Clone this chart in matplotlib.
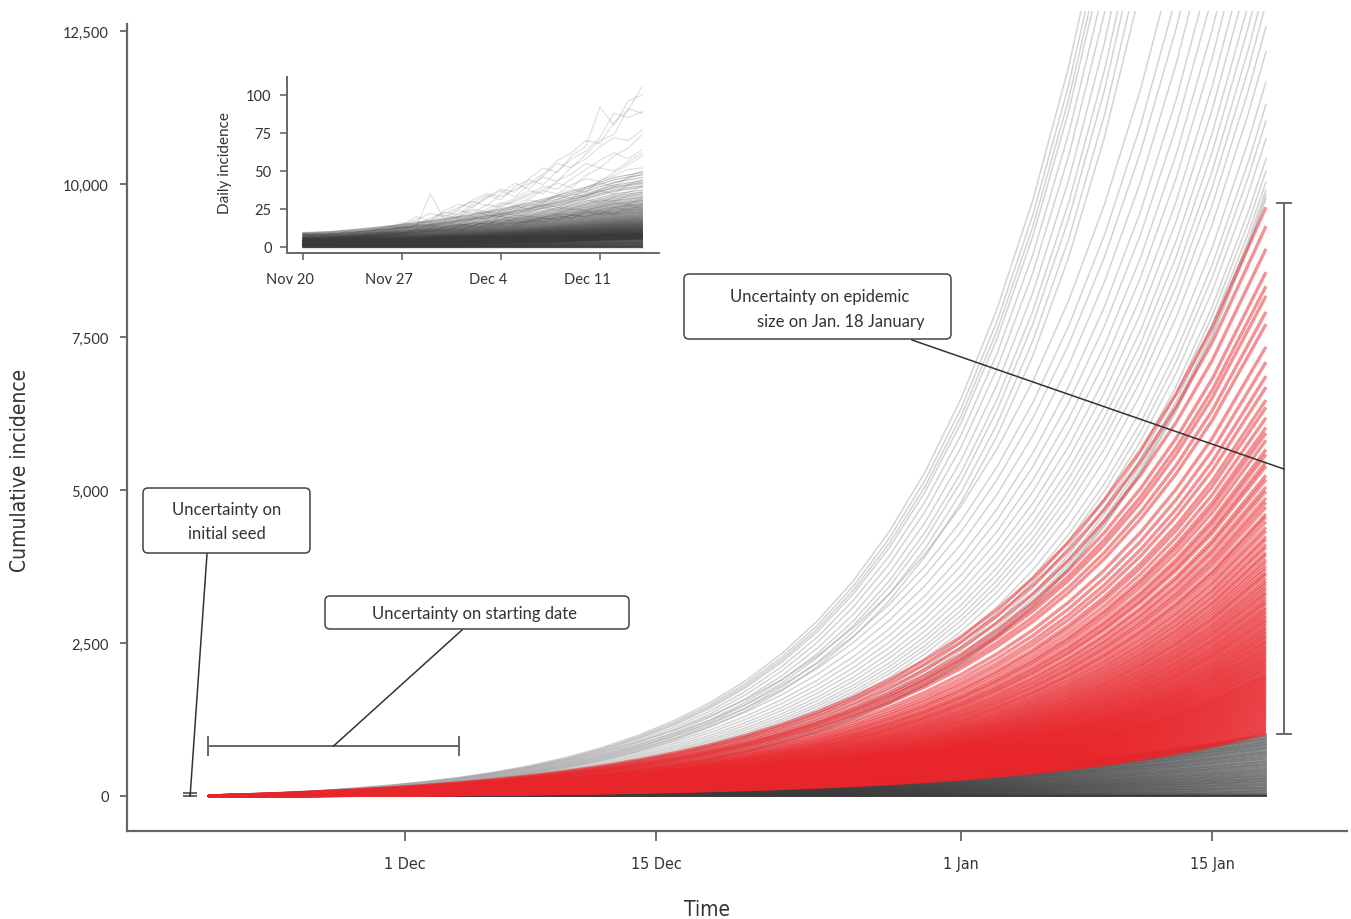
import numpy as np
import pandas as pd
import matplotlib
matplotlib.use('Agg')
import matplotlib.pyplot as plt
import matplotlib.dates as mdates
from matplotlib.patches import FancyBboxPatch
from matplotlib.transforms import ScaledTranslation

plt.rcParams['font.family'] = ['Lato', 'DejaVu Sans']
NARROW = dict(family='DejaVu Sans', stretch='condensed')

# ---------------- data ----------------
start_date = pd.Timestamp('2019-11-20')

# days since 20 Nov at which the trajectories are sampled
knot_days = [0, 2, 4, 6, 8, 10, 12, 14, 16, 18, 20, 22, 24, 26, 28, 30,
             32, 34, 36, 38, 40, 42, 44, 46, 48, 50, 52, 54, 56, 58, 59]

# shape of the cumulative curves (fraction of the size reached on 18 Jan)
profile_fast = [0, .000609, .001352, .002259, .003367, .004721, .006373, .008393,
                .010860, .013872, .017551, .022045, .027533, .034238, .042426, .052428,
                .064644, .079564, .097788, .120046, .147233, .180439, .220996, .270534,
                .331039, .404940, .495202, .605450, .740106, .904575, 1.0]
profile_midfast = [0, .001102, .002415, .003978, .005839, .008058, .010701, .013849,
                   .017600, .022066, .027389, .033728, .041279, .050274, .060991, .073758,
                   .088965, .107083, .128664, .154368, .185003, .221477, .264936, .316704,
                   .378400, .451881, .539362, .643609, .767810, .915737, 1.0]
profile_mid = [0, .001964, .004241, .006893, .009959, .013532, .017692, .022520,
               .028117, .034635, .042195, .050980, .061192, .073065, .086850, .102861,
               .121484, .143143, .168244, .197393, .231298, .270670, .316519, .369655,
               .431394, .503254, .586652, .683512, .796059, .931885, 1.0]
profile_slow = [0, .005804, .012230, .019321, .027162, .035825, .045406, .055991,
                .067704, .080577, .094928, .110652, .128168, .147373, .168689, .192326,
                .218285, .247093, .278855, .313995, .352827, .395775, .443261, .495599,
                .553532, .617584, .688390, .766583, .853006, .948505, 1.0]

# epidemic size on 18 January for each simulated trajectory
grey_fast_final = [36000, 35100, 34400, 33800, 32700, 31600, 30400, 29300, 28500, 27500, 26600]
grey_midfast_final = [21400, 20300, 19500, 18600, 17700, 17000, 16300, 15700, 15100, 14600,
                      14100, 13700, 13300, 12950, 12570, 12160, 11670, 11300, 11030, 10740,
                      10410, 10210, 10030, 9900, 9820, 9760]
red_final = [
    9620, 9310, 8940, 8560, 8330, 8170, 7910, 7710, 7340, 7090,
    6860, 6680, 6470, 6350, 6180, 6020, 5930, 5810, 5660, 5580,
    5460, 5390, 5240, 5170, 5050, 4980, 4870, 4800, 4720, 4610,
    4560, 4480, 4390, 4330, 4240, 4190, 4110, 4060, 3980, 3940,
    3870, 3820, 3760, 3710, 3650, 3620, 3560, 3510, 3470, 3420,
    3380, 3330, 3300, 3250, 3210, 3170, 3140, 3090, 3060, 3020,
    2990, 2950, 2920, 2880, 2860, 2820, 2790, 2750, 2730, 2690,
    2670, 2630, 2610, 2580, 2550, 2520, 2500, 2470, 2440, 2420,
    2390, 2370, 2340, 2320, 2290, 2270, 2240, 2220, 2200, 2170,
    2150, 2130, 2100, 2080, 2060, 2040, 2010, 1990, 1970, 1950,
    1930, 1910, 1890, 1870, 1850, 1830, 1810, 1790, 1770, 1750,
    1730, 1710, 1690, 1670, 1650, 1630, 1610, 1590, 1570, 1550,
    1530, 1510, 1490, 1470, 1450, 1430, 1410, 1390, 1370, 1350,
    1330, 1310, 1290, 1270, 1250, 1230, 1210, 1190, 1170, 1150,
    1130, 1110, 1090, 1070, 1050, 1030, 1015,
]
dark_final = [
    1010, 985, 972, 950, 938, 921, 903, 884, 872, 851,
    838, 822, 801, 788, 769, 752, 731, 716, 698, 683,
    662, 647, 628, 612, 593, 571, 560, 538, 522, 507,
    488, 472, 451, 439, 418, 406, 388, 371, 357, 338,
    326, 309, 292, 281, 263, 248, 236, 219, 204, 188,
    176, 158, 143, 131, 117, 99, 86, 71, 57, 42,
    31, 22, 12, 6, 3, 0, 0, 0, 0,
]

# inset: clearly visible daily incidence trajectories, 20 Nov - 14 Dec
inset_days = [0, 1, 2, 3, 4, 5, 6, 7, 8, 9, 10, 11, 12, 13, 14, 15, 16, 17, 18, 19, 20, 21, 22, 23, 24]
inset_upper = [
    [8, 7, 9, 8, 10, 11, 13, 15, 18, 22, 20, 25, 31, 35, 33, 38, 42, 48, 57, 62, 70, 68, 82, 90, 106],
    [7, 8, 6, 8, 9, 12, 11, 14, 20, 17, 24, 28, 26, 33, 38, 36, 45, 52, 49, 60, 66, 92, 80, 96, 100],
    [9, 6, 8, 7, 8, 10, 14, 12, 15, 19, 23, 21, 29, 34, 31, 40, 44, 41, 50, 58, 63, 72, 88, 85, 89],
    [6, 7, 8, 6, 9, 8, 12, 16, 14, 18, 22, 26, 30, 27, 35, 42, 38, 47, 55, 52, 61, 70, 74, 91, 88],
    [7, 5, 7, 9, 8, 11, 10, 13, 17, 16, 21, 19, 27, 32, 37, 33, 41, 46, 43, 53, 58, 66, 72, 70, 77],
    [5, 6, 6, 7, 10, 9, 11, 14, 13, 35, 18, 22, 25, 23, 28, 32, 37, 35, 44, 48, 55, 52, 60, 65, 74],
    [6, 8, 7, 6, 8, 10, 9, 12, 15, 14, 19, 24, 22, 28, 26, 31, 35, 40, 38, 45, 51, 57, 62, 58, 64],
    [5, 6, 5, 8, 7, 9, 12, 11, 14, 13, 17, 20, 24, 21, 27, 30, 34, 38, 42, 39, 47, 52, 50, 56, 62],
    [7, 5, 6, 7, 6, 8, 10, 13, 12, 15, 14, 18, 21, 25, 29, 28, 32, 37, 35, 41, 45, 43, 49, 54, 60],
    [4, 6, 7, 5, 8, 7, 9, 11, 13, 12, 16, 15, 19, 23, 22, 26, 31, 29, 34, 38, 36, 44, 47, 51, 52],
    [6, 4, 5, 7, 6, 9, 8, 10, 12, 14, 13, 17, 20, 18, 24, 27, 25, 30, 34, 32, 39, 42, 40, 46, 50],
    [5, 6, 4, 6, 7, 8, 10, 9, 11, 13, 15, 14, 18, 21, 20, 24, 28, 27, 31, 35, 33, 38, 42, 45, 48],
    [4, 5, 6, 5, 6, 7, 9, 11, 10, 12, 14, 13, 16, 19, 22, 21, 25, 28, 26, 30, 34, 37, 35, 41, 44],
    [5, 4, 5, 6, 7, 6, 8, 9, 11, 10, 13, 15, 14, 17, 20, 19, 23, 26, 24, 28, 31, 29, 33, 36, 40],
    [4, 5, 4, 5, 6, 7, 7, 9, 10, 12, 11, 13, 16, 15, 18, 21, 20, 23, 26, 25, 28, 31, 30, 34, 36],
    [3, 4, 5, 4, 6, 6, 8, 8, 9, 11, 12, 11, 14, 16, 15, 18, 20, 19, 22, 25, 24, 27, 29, 28, 32],
    [9, 7, 8, 6, 7, 9, 8, 10, 9, 12, 11, 10, 14, 13, 21, 15, 17, 16, 20, 19, 23, 22, 26, 24, 28],
    [6, 8, 7, 9, 8, 7, 9, 8, 11, 10, 13, 12, 11, 15, 14, 13, 17, 19, 18, 21, 20, 24, 22, 27, 25],
    [8, 6, 9, 7, 8, 8, 10, 9, 12, 11, 10, 14, 13, 12, 16, 15, 18, 17, 21, 19, 23, 21, 25, 28, 26],
    [7, 9, 8, 8, 10, 9, 11, 10, 12, 14, 13, 15, 14, 17, 16, 19, 18, 20, 22, 21, 24, 23, 22, 25, 24],
    [8, 8, 7, 10, 9, 10, 9, 12, 11, 13, 12, 14, 16, 15, 18, 17, 16, 19, 18, 21, 20, 22, 21, 23, 22],
]

# uncertainty brackets: seed size, starting date window, size on 18 Jan
seed_range = (0, 50)
start_window = ('2019-11-20', '2019-12-04')
size_range = (1013, 9690)

# ---------------- figure ----------------
W, H = 1351, 920
fig = plt.figure(figsize=(W / 100, H / 100), dpi=100)
ax = fig.add_axes([127 / W, 88 / H, 1220 / W, 820 / H])

x0 = mdates.date2num(start_date.to_pydatetime())
kd = x0 + np.array(knot_days)

for f in grey_fast_final:
    ax.plot(kd, f * np.array(profile_fast), color='#a8a8a8', alpha=0.5, lw=1.1, zorder=1)
for f in grey_midfast_final:
    ax.plot(kd, f * np.array(profile_midfast), color='#a8a8a8', alpha=0.5, lw=1.1, zorder=1)
for f in dark_final:
    ax.plot(kd, f * np.array(profile_slow), color='#3c3c3c', alpha=0.45, lw=1.3, zorder=2)
for f in red_final:
    ax.plot(kd, f * np.array(profile_mid), color='#e8262b', alpha=0.5, lw=2.4, zorder=3,
            solid_capstyle='butt')

ylo, yhi = -572, 12827
ax.set_ylim(ylo, yhi)
ax.set_xlim(x0 - 4.52, x0 + 63.52)

yt = [0, 2500, 5000, 7500, 10000, 12500]
ax.set_yticks(yt)
ax.set_yticklabels(['0', '2,500', '5,000', '7,500', '10,000', '12,500'])
xt_dates = ['2019-12-01', '2019-12-15', '2020-01-01', '2020-01-15']
ax.set_xticks([mdates.date2num(pd.Timestamp(d).to_pydatetime()) for d in xt_dates])
ax.set_xticklabels(['1 Dec', '15 Dec', '1 Jan', '15 Jan'], fontsize=11.5, **NARROW)

for s in ['top', 'right']:
    ax.spines[s].set_visible(False)
for s in ['left', 'bottom']:
    ax.spines[s].set_color('#666666')
    ax.spines[s].set_linewidth(1.6)
ax.spines['left'].set_bounds(ylo, 12614)
ax.tick_params(axis='y', length=5, width=1.3, color='#666666', labelsize=10.5,
               labelcolor='#333333', pad=8)
ax.tick_params(axis='x', length=7, width=1.3, color='#666666', labelcolor='#333333', pad=11)

# brackets
bc = '#666666'
ax.errorbar([x0 - 1.0], [sum(seed_range) / 2], yerr=[(seed_range[1] - seed_range[0]) / 2],
            fmt='none', ecolor=bc, elinewidth=1.4, capsize=5, capthick=1.4, zorder=5)
sw0 = mdates.date2num(pd.Timestamp(start_window[0]).to_pydatetime())
sw1 = mdates.date2num(pd.Timestamp(start_window[1]).to_pydatetime())
ax.errorbar([(sw0 + sw1) / 2], [817], xerr=[(sw1 - sw0) / 2], fmt='none', ecolor=bc,
            elinewidth=1.4, capsize=7, capthick=1.4, zorder=5)
ax.errorbar([x0 + 60.0], [sum(size_range) / 2], yerr=[(size_range[1] - size_range[0]) / 2],
            fmt='none', ecolor=bc, elinewidth=1.4, capsize=6, capthick=1.4, zorder=5, clip_on=False)

fig.text(20 / W, 1 - 470 / H, 'Cumulative incidence', rotation=90, ha='center', va='center',
         fontsize=15, color='#333333', **NARROW)
fig.text(707 / W, 1 - 910 / H, 'Time', ha='center', va='center', fontsize=15,
         color='#333333', **NARROW)

# ---------------- inset ----------------
ax2 = fig.add_axes([287 / W, (H - 254) / H, 372 / W, 176 / H])
kin = [k for k in knot_days if k <= 24]
kin_x = x0 + np.array(kin)
n_in = len(kin)
for f in red_final:
    cum = f * np.array(profile_mid[:n_in])
    ax2.plot(kin_x, np.gradient(cum, kin), color='#3a3a3a', alpha=0.3, lw=0.9)
for f in dark_final:
    cum = f * np.array(profile_slow[:n_in])
    ax2.plot(kin_x, np.gradient(cum, kin), color='#3a3a3a', alpha=0.3, lw=0.9)
for series in inset_upper:
    ax2.plot(x0 + np.array(inset_days), series, color='#3a3a3a', alpha=0.15, lw=0.9)

ax2.set_xlim(x0 - 1.13, x0 + 25.18)
ax2.set_ylim(-3.95, 111.8)
ax2.set_yticks([0, 25, 50, 75, 100])
ax2.set_xticks(x0 + np.array([0, 7, 14, 21]))
ax2.set_xticklabels(['Nov 20', 'Nov 27', 'Dec 4', 'Dec 11'])
for s in ['top', 'right']:
    ax2.spines[s].set_visible(False)
for s in ['left', 'bottom']:
    ax2.spines[s].set_color('#666666')
    ax2.spines[s].set_linewidth(1.4)
ax2.tick_params(length=5, width=1.2, color='#666666', labelsize=10.5, labelcolor='#333333')
ax2.tick_params(axis='x', pad=9)
ax2.tick_params(axis='y', pad=6)
shift = ScaledTranslation(-0.13, 0, fig.dpi_scale_trans)
for lbl in ax2.get_xticklabels():
    lbl.set_transform(lbl.get_transform() + shift)
fig.text(225 / W, 1 - 163 / H, 'Daily incidence', rotation=90, ha='center', va='center',
         fontsize=11, color='#333333')

# ---------------- annotation boxes ----------------
ov = fig.add_axes([0, 0, 1, 1], zorder=10)
ov.set_xlim(0, W)
ov.set_ylim(H, 0)
ov.axis('off')


def to_px(x, y):
    X, Y = ax.transData.transform((x, y))
    return X, H - Y


def box(x, y, w, h):
    ov.add_patch(FancyBboxPatch((x, y), w, h, boxstyle='round,pad=0,rounding_size=5',
                                fc='white', ec='#444444', lw=1.1))


tc = '#333333'
box(143, 489, 167, 65)
ov.text(227, 522, 'Uncertainty on\ninitial seed', ha='center', va='center', fontsize=12,
        color=tc, linespacing=1.6)
sx, sy = to_px(x0 - 1.0, 0)
ov.plot([sx, 207], [sy, 555], color='#333333', lw=1.1)

box(325, 597, 304, 33)
ov.text(474, 614, 'Uncertainty on starting date', ha='center', va='center', fontsize=12, color=tc)
sx, sy = to_px(x0 + 7.0, 817)
ov.plot([sx, 462], [sy, 631], color='#333333', lw=1.1)

box(684, 275, 267, 65)
ov.text(820, 297, 'Uncertainty on epidemic', ha='center', va='center', fontsize=12, color=tc)
ov.text(841, 322, 'size on Jan. 18 January', ha='center', va='center', fontsize=12, color=tc)
sx, sy = to_px(x0 + 60.0, 5343)
ov.plot([sx, 912], [sy, 341], color='#333333', lw=1.1)

fig.savefig('out.png', dpi=100)
